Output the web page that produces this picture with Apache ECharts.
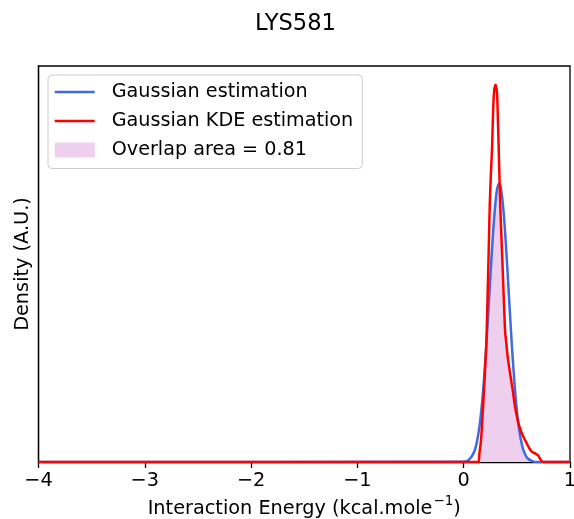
<!DOCTYPE html>
<html>
<head>
<meta charset="utf-8">
<script src="https://cdn.jsdelivr.net/npm/echarts@6/dist/echarts.min.js"></script>
<style>html,body{margin:0;padding:0;background:#fff}#c{width:574px;height:519px}</style>
</head>
<body>
<div id="c"></div>
<script>
const titleText = 'LYS581';
const xAxisNameMain = 'Interaction Energy (kcal.mole';
const xAxisNameSup = '\u22121';
const xAxisNameEnd = ')';
const yAxisName = 'Density (A.U.)';
const xTicks = [-4, -3, -2, -1, 0, 1];
const xTickLabels = ['\u22124', '\u22123', '\u22122', '\u22121', '0', '1'];
const seriesNames = ['Gaussian estimation', 'Gaussian KDE estimation', 'Overlap area = 0.81'];

const blueX = [-4, 0, 0.05, 0.1, 0.125, 0.15, 0.175, 0.2, 0.225, 0.25, 0.275, 0.3, 0.315, 0.333, 0.35, 0.375, 0.4, 0.425, 0.45, 0.475, 0.5, 0.525, 0.55, 0.575, 0.6, 0.65, 0.7, 1];
const blueY = [0, 0.005, 0.034, 0.160, 0.311, 0.561, 0.940, 1.457, 2.097, 2.797, 3.461, 3.970, 4.158, 4.24, 4.167, 3.811, 3.233, 2.544, 1.855, 1.256, 0.787, 0.458, 0.247, 0.124, 0.057, 0.010, 0.001, 0];

const redX = [-4, 0.14, 0.146, 0.163, 0.182, 0.2, 0.214, 0.225, 0.235, 0.245, 0.255, 0.267, 0.276, 0.285, 0.299, 0.313, 0.32, 0.329, 0.345, 0.36, 0.37, 0.389, 0.398, 0.414, 0.436, 0.461, 0.483, 0.515, 0.546, 0.577, 0.609, 0.64, 0.671, 0.696, 0.722, 0.743, 1];
const redY = [0, 0, 0.106, 0.334, 0.84, 1.38, 1.854, 2.55, 3.2, 3.9, 4.35, 4.79, 5.30, 5.62, 5.74, 5.62, 5.30, 4.79, 3.85, 3.22, 2.80, 2.0, 1.854, 1.60, 1.353, 1.094, 0.84, 0.588, 0.441, 0.334, 0.233, 0.157, 0.132, 0.106, 0.041, 0, 0];

const overlapX = [0.14, 0.146, 0.163, 0.182, 0.2, 0.214, 0.225, 0.25, 0.275, 0.3, 0.315, 0.333, 0.3385, 0.345, 0.36, 0.37, 0.389, 0.398, 0.414, 0.436, 0.461, 0.483, 0.5, 0.512, 0.525, 0.55, 0.575, 0.6, 0.65, 0.7];
const overlapY = [0, 0.106, 0.334, 0.84, 1.38, 1.83, 2.097, 2.797, 3.461, 3.970, 4.158, 4.24, 4.23, 3.85, 3.22, 2.80, 2.0, 1.854, 1.60, 1.353, 1.094, 0.84, 0.706, 0.61, 0.458, 0.247, 0.124, 0.057, 0.010, 0.001];

const pair = (xs, ys) => xs.map((x, i) => [x, ys[i]]);
const yMax = Math.max(...redY) * 1.05;
const FONT = 'DejaVu Sans';
const LINE_ICON = 'path://M0,0H40V2.5H0Z';

const chart = echarts.init(document.getElementById('c'), null, {renderer: 'canvas'});
chart.setOption({
  animation: false,
  backgroundColor: '#fff',
  textStyle: {fontFamily: FONT},
  graphic: [{
    type: 'text', x: 295.5, y: 13, z: 10,
    style: {text: titleText, fontFamily: FONT, fontSize: 22.6, fill: '#000', textAlign: 'center', textVerticalAlign: 'top'}
  }],
  grid: {left: 38.5, right: 4, top: 66, bottom: 57, show: true, borderColor: '#000', borderWidth: 1.3,
    backgroundColor: 'transparent', containLabel: false, outerBoundsMode: 'none'},
  legend: {
    orient: 'vertical', left: 48, top: 75,
    padding: [7.5, 9, 9, 6.7],
    itemWidth: 40, itemHeight: 15, itemGap: 10, symbolKeepAspect: true,
    backgroundColor: 'rgba(255,255,255,0.8)', borderColor: '#cccccc', borderWidth: 1, borderRadius: 4,
    textStyle: {fontFamily: FONT, fontSize: 19.2, color: '#000', lineHeight: 18.3, padding: [0, 0, 0, 12]},
    data: [
      {name: seriesNames[0], icon: LINE_ICON},
      {name: seriesNames[1], icon: LINE_ICON},
      {name: seriesNames[2], icon: 'rect'}
    ]
  },
  xAxis: {
    type: 'value', min: -4, max: 1, interval: 1,
    name: '{a|' + xAxisNameMain + '}{s|' + xAxisNameSup + '}{a|' + xAxisNameEnd + '}',
    nameLocation: 'middle', nameGap: 32,
    nameTextStyle: {fontFamily: FONT, fontSize: 19.3, color: '#000',
      rich: {
        a: {fontFamily: FONT, fontSize: 19.3, color: '#000', lineHeight: 24, verticalAlign: 'bottom'},
        s: {fontFamily: FONT, fontSize: 13.5, color: '#000', lineHeight: 24, verticalAlign: 'top', padding: [0, 0, 0, 1]}
      }},
    axisLine: {show: true, onZero: false, lineStyle: {color: '#000', width: 1.3}},
    axisTick: {show: true, length: 6, lineStyle: {color: '#000', width: 1.3}},
    axisLabel: {color: '#000', fontFamily: FONT, fontSize: 19.3, margin: 9,
      formatter: v => { const i = xTicks.indexOf(v); return i >= 0 ? xTickLabels[i] : ''; }},
    splitLine: {show: false}
  },
  yAxis: {
    type: 'value', min: 0, max: yMax,
    name: yAxisName, nameLocation: 'middle', nameGap: 6,
    nameTextStyle: {fontFamily: FONT, fontSize: 19.3, color: '#000'},
    axisLine: {show: true, onZero: false, lineStyle: {color: '#000', width: 1.3}},
    axisTick: {show: false}, axisLabel: {show: false}, splitLine: {show: false}
  },
  series: [
    {
      name: seriesNames[2], type: 'line', data: pair(overlapX, overlapY),
      symbol: 'none', smooth: 0.2, color: 'rgb(238,207,238)',
      lineStyle: {width: 0, color: 'rgb(238,207,238)'},
      areaStyle: {color: 'rgb(238,207,238)', opacity: 1}, z: 1
    },
    {
      name: seriesNames[0], type: 'line', data: pair(blueX, blueY),
      symbol: 'none', smooth: 0.3, color: '#4169E1',
      lineStyle: {width: 2.5, color: '#4169E1'}, z: 2
    },
    {
      name: seriesNames[1], type: 'line', data: pair(redX, redY),
      symbol: 'none', smooth: 0.3, color: '#ff0000',
      lineStyle: {width: 2.5, color: '#ff0000'}, z: 3
    }
  ]
});
</script>
</body>
</html>
